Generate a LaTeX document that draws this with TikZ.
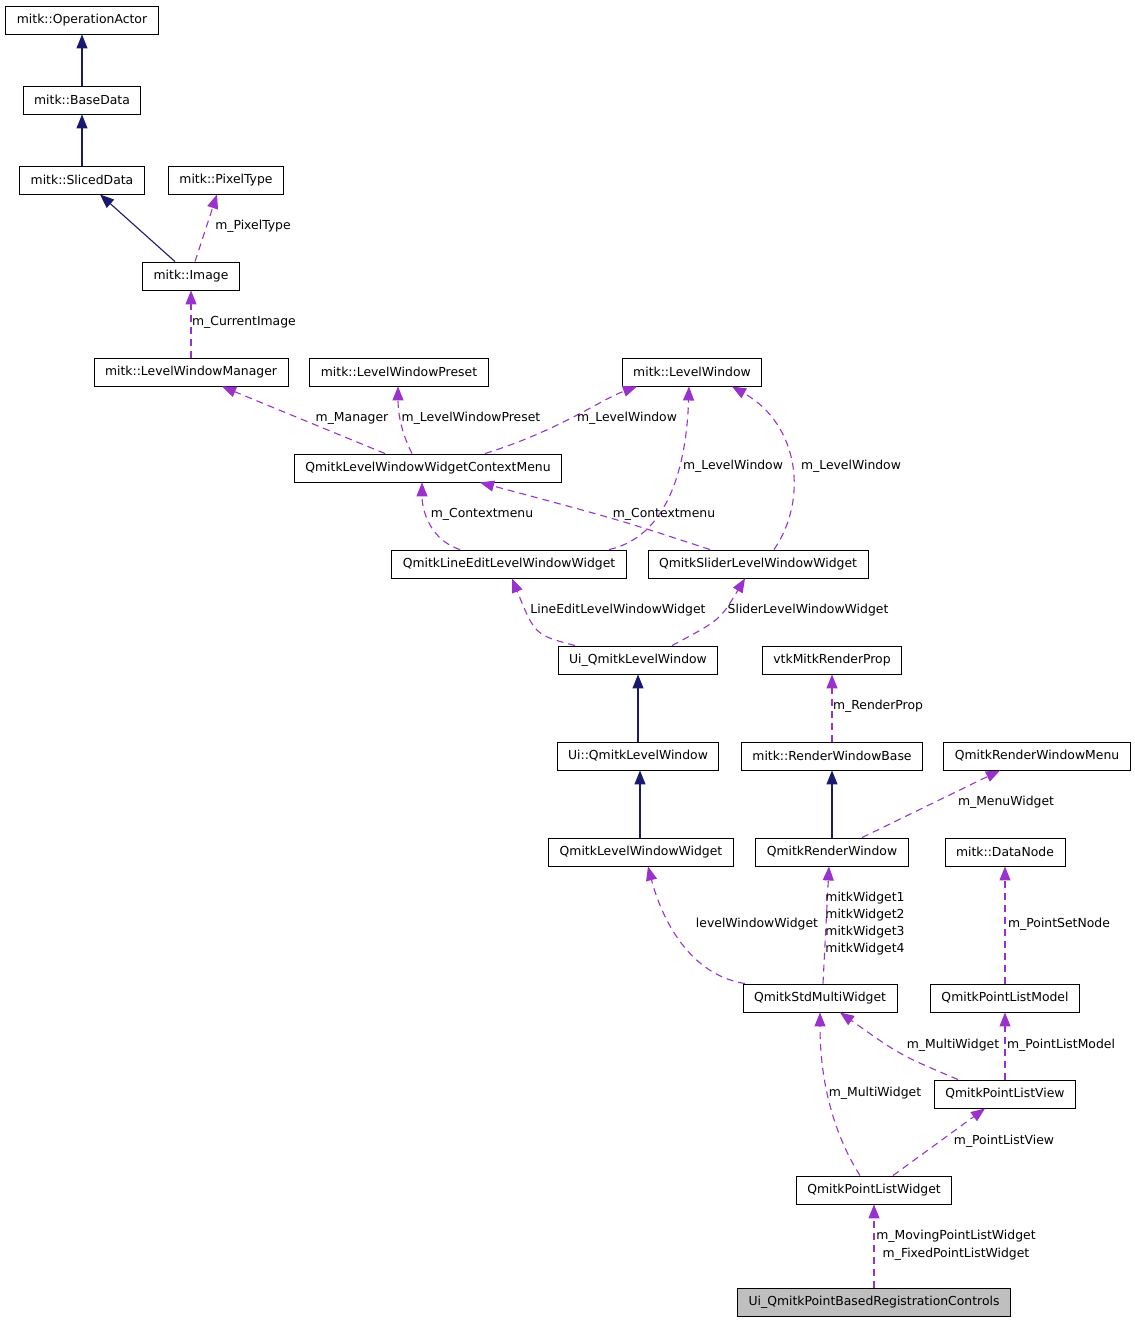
\documentclass[tikz,border=0pt]{standalone}
\usepackage{fontspec}
\setmainfont{DejaVu Sans}
\usetikzlibrary{positioning,calc,arrows.meta}
\definecolor{inhcol}{RGB}{25,25,112}
\definecolor{usecol}{RGB}{153,50,204}
\tikzset{klass/.style={draw,line width=0.9pt,fill=white,minimum height=28pt,inner xsep=11pt,inner ysep=0pt,font=\fontsize{12.4}{14}\selectfont},
         inherit/.style={-{Triangle[length=14pt,width=11pt]},color=inhcol,line width=1.1pt},
         uses/.style={-{Triangle[length=14pt,width=11pt]},color=usecol,line width=1.1pt,dash pattern=on 7pt off 5pt},
         lbl/.style={font=\fontsize{12.4}{17}\selectfont,align=center,inner sep=0pt}
}
\begin{document}
\begin{tikzpicture}[x=1pt,y=1pt,yscale=-1,xscale=1]
\useasboundingbox (0,0) rectangle (1135,1323);

% classes
\node[klass] (actor) at (82,20) {mitk::OperationActor};
\node[klass] (base) at (82,100) {mitk::BaseData};
\node[klass] (sliced) at (82,180) {mitk::SlicedData};
\node[klass] (pixel) at (226,180) {mitk::PixelType};
\node[klass] (image) at (191,276) {mitk::Image};
\node[klass] (lwm) at (191,372) {mitk::LevelWindowManager};
\node[klass] (preset) at (399,372) {mitk::LevelWindowPreset};
\node[klass] (lw) at (692,372) {mitk::LevelWindow};
\node[klass] (ctx) at (428,468) {QmitkLevelWindowWidgetContextMenu};
\node[klass] (lineedit) at (509,564) {QmitkLineEditLevelWindowWidget};
\node[klass] (slider) at (758,564) {QmitkSliderLevelWindowWidget};
\node[klass] (uiL) at (638,660) {Ui\_QmitkLevelWindow};
\node[klass] (vtk) at (832,660) {vtkMitkRenderProp};
\node[klass] (uiNs) at (638,756) {Ui::QmitkLevelWindow};
\node[klass] (rwb) at (832,756) {mitk::RenderWindowBase};
\node[klass] (menu) at (1037,756) {QmitkRenderWindowMenu};
\node[klass] (lww) at (641,852) {QmitkLevelWindowWidget};
\node[klass] (rw) at (832,852) {QmitkRenderWindow};
\node[klass] (dn) at (1005,852) {mitk::DataNode};
\node[klass] (smw) at (820,998) {QmitkStdMultiWidget};
\node[klass] (plm) at (1005,998) {QmitkPointListModel};
\node[klass] (plv) at (1005,1094) {QmitkPointListView};
\node[klass] (plw) at (874,1190) {QmitkPointListWidget};
\node[klass,fill={rgb,255:red,191;green,191;blue,191}] (ctrl) at (874,1302) {Ui\_QmitkPointBasedRegistrationControls};

% inheritance
\draw[inherit] (base) -- (actor);
\draw[inherit] (sliced) -- (base);
\draw[inherit] ($(image.north)+(-16,0)$) -- ($(sliced.south)+(18,0)$);
\draw[inherit] (uiNs) -- (uiL);
\draw[inherit] ($(lww.north)+(-1,0)$) .. controls (640,810) .. ($(uiNs.south)+(2,0)$);
\draw[inherit] (rw) -- (rwb);

% usage
\draw[uses] ($(image.north)+(4,0)$) -- ($(pixel.south)+(-9,0)$);
\draw[uses] (lwm) -- (image);
\draw[uses] ($(ctx.north)+(-43,0)$) -- ($(lwm.south)+(31,0)$);
\draw[uses] ($(ctx.north)+(-16,0)$) .. controls (400,430) and (398,410) .. ($(preset.south)+(-1,0)$);
\draw[uses] ($(ctx.north)+(57,0)$) .. controls (560,430) and (600,400) .. ($(lw.south)+(-55,0)$);
\draw[uses] ($(lineedit.north)+(100,0)$) .. controls (675,535) and (687,450) .. ($(lw.south)+(-3,0)$);
\draw[uses] ($(slider.north)+(16,0)$) .. controls (808,500) and (800,425) .. ($(lw.south)+(40,0)$);
\draw[uses] ($(lineedit.north)+(-49,0)$) .. controls (430,540) and (422,510) .. ($(ctx.south)+(-6,0)$);
\draw[uses] ($(slider.north)+(-48,0)$) .. controls (620,520) .. ($(ctx.south)+(52,0)$);
\draw[uses] ($(uiL.north)+(-63,0)$) .. controls (535,635) .. ($(lineedit.south)+(3,0)$);
\draw[uses] ($(uiL.north)+(34,0)$) .. controls (720,620) .. ($(slider.south)+(-13,0)$);
\draw[uses] (rwb) -- (vtk);
\draw[uses] ($(rw.north)+(30,0)$) -- ($(menu.south)+(-37,0)$);
\draw[uses] ($(smw.north)+(-75,0)$) .. controls (690,975) and (662,920) .. ($(lww.south)+(7,0)$);
\draw[uses] ($(smw.north)+(3,0)$) -- ($(rw.south)+(-3,0)$);
\draw[uses] (plm) -- (dn);
\draw[uses] (plv) -- (plm);
\draw[uses] ($(plv.north)+(-47,0)$) .. controls (900,1055) .. ($(smw.south)+(20,0)$);
\draw[uses] ($(plw.north)+(-14,0)$) .. controls (825,1120) and (820,1060) .. (smw.south);
\draw[uses] ($(plw.north)+(19,0)$) -- ($(plv.south)+(-20,0)$);
\draw[uses] (ctrl) -- (plw);

% labels
\node[lbl] (lPix) at (253,226) {m\_PixelType};
\node[lbl] (lCur) at (244,322) {m\_CurrentImage};
\node[lbl] (lMan) at (352,418) {m\_Manager};
\node[lbl] (lPre) at (471,418) {m\_LevelWindowPreset};
\node[lbl] (lLw1) at (627,418) {m\_LevelWindow};
\node[lbl] (lLw2) at (733,466) {m\_LevelWindow};
\node[lbl] (lLw3) at (851,466) {m\_LevelWindow};
\node[lbl] (lCm1) at (482,514) {m\_Contextmenu};
\node[lbl] (lCm2) at (664,514) {m\_Contextmenu};
\node[lbl] (lLine) at (618,610) {LineEditLevelWindowWidget};
\node[lbl] (lSli) at (808,610) {SliderLevelWindowWidget};
\node[lbl] (lRp) at (878,706) {m\_RenderProp};
\node[lbl] (lMenu) at (1006,802) {m\_MenuWidget};
\node[lbl] (lLww) at (757,924) {levelWindowWidget};
\node[lbl,align=left] (lMw) at (865,924) {mitkWidget1\\mitkWidget2\\mitkWidget3\\mitkWidget4};
\node[lbl] (lPsn) at (1059,924) {m\_PointSetNode};
\node[lbl] (lMul1) at (953,1045) {m\_MultiWidget};
\node[lbl] (lPlm) at (1061,1045) {m\_PointListModel};
\node[lbl] (lMul2) at (875,1093) {m\_MultiWidget};
\node[lbl] (lPlv) at (1004,1141) {m\_PointListView};
\node[lbl,font=\fontsize{12.4}{18}\selectfont] (lPlw) at (956,1245) {m\_MovingPointListWidget\\m\_FixedPointListWidget};

\end{tikzpicture}
\end{document}
